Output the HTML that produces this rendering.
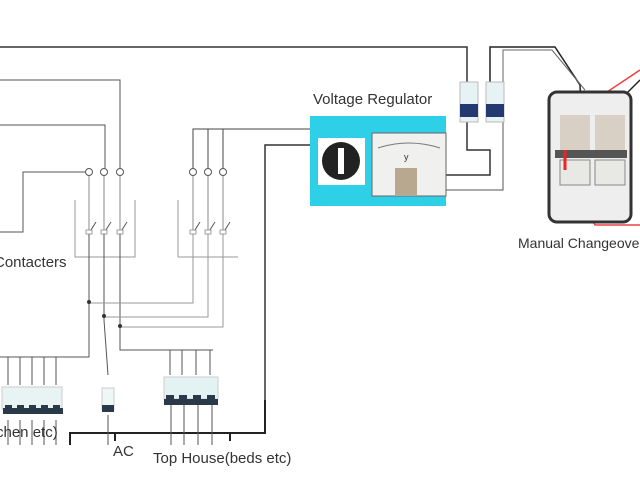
<!DOCTYPE html>
<html><head><meta charset="utf-8"><style>
html,body{margin:0;padding:0;background:#fff;width:640px;height:480px;overflow:hidden}
text{font-family:"Liberation Sans",sans-serif;fill:#333}
</style></head><body>
<svg width="640" height="480" viewBox="0 0 640 480" xmlns="http://www.w3.org/2000/svg">
<g fill="none" stroke="#555" stroke-width="1">
<path d="M0 47 H467 V86" stroke="#333" stroke-width="1.5"/>
<path d="M0 80 H120 V168"/>
<path d="M0 125 H105 V168"/>
<path d="M0 232 H23 V172 H85"/>
<circle cx="89" cy="172" r="3.5" fill="#fff"/><circle cx="104" cy="172" r="3.5" fill="#fff"/><circle cx="120" cy="172" r="3.5" fill="#fff"/>
<path d="M75 200 V257 H135 V200" stroke="#999"/>
<path d="M89 176 V233 M104 176 V233 M120 176 V233" stroke="#888"/>
<path d="M89 233 L96 222 M104 233 L111 222 M120 233 L127 222" stroke="#555"/>
<path d="M89 233 V357 H0" stroke="#555"/>
<path d="M104 233 V320 L108 375"/>
<path d="M120 233 V350 H213"/>
<path d="M193 168 V129 H310 M208 168 V129 M223 168 V129" stroke="#444"/>
<circle cx="193" cy="172" r="3.5" fill="#fff"/><circle cx="208" cy="172" r="3.5" fill="#fff"/><circle cx="223" cy="172" r="3.5" fill="#fff"/>
<path d="M178 200 V257 H238" stroke="#999"/>
<path d="M193 176 V233 M208 176 V233 M223 176 V233" stroke="#888"/>
<path d="M193 233 L200 222 M208 233 L215 222 M223 233 L230 222"/>
<path d="M193 233 V303 H89 M208 233 V317 H104 M223 233 V327 H120" stroke="#999"/>
<path d="M265 430 V145 H310" stroke="#333" stroke-width="1.5"/>
<path d="M70 445 V433 H265 V400" stroke="#222" stroke-width="2"/>
<path d="M115 433 V441 M230 433 V441" stroke="#222" stroke-width="2"/>
<path d="M446 175 H490 V150 H467 V122" stroke="#333" stroke-width="1.5"/>
<path d="M446 190 H503 V122" stroke="#555"/>
<path d="M490 85 V47 H555 L580 85 L585 200" stroke="#222" stroke-width="1.5"/>
<path d="M503 85 V50 H552 L585 90" stroke="#666"/>
<path d="M565 140 L580 110 L640 70" stroke="#e44" stroke-width="1.5"/>
<path d="M600 95 V120 L640 80" stroke="#222" stroke-width="1.5"/>
<path d="M575 190 L595 225 H640" stroke="#e44" stroke-width="1.5"/>
</g>
<g fill="#fff" stroke="#888" stroke-width="0.8">
<rect x="86" y="230" width="6" height="4"/><rect x="101" y="230" width="6" height="4"/><rect x="117" y="230" width="6" height="4"/>
<rect x="190" y="230" width="6" height="4"/><rect x="205" y="230" width="6" height="4"/><rect x="220" y="230" width="6" height="4"/>
</g>
<g stroke="#555" stroke-width="1">
<path d="M8 357 V385 M20 357 V385 M32 357 V385 M44 357 V385 M56 357 V385"/>
<path d="M8 420 V445 M20 420 V445 M32 420 V445 M44 420 V445 M56 420 V445"/>
<path d="M170 350 V375 M182 350 V375 M196 350 V375 M210 350 V375"/>
<path d="M171 405 V445 M184 405 V445 M198 405 V445 M212 405 V445"/>
<path d="M108 415 V445"/>
</g>
<g fill="#333"><circle cx="89" cy="302" r="2"/><circle cx="104" cy="316" r="2"/><circle cx="120" cy="326" r="2"/></g>
<g fill="#e8f4f4" stroke="#ccc"><rect x="2" y="387" width="60" height="22"/></g>
<g fill="#2a3a4a"><rect x="3" y="408" width="60" height="6"/><rect x="5" y="405" width="7" height="6"/><rect x="17" y="405" width="7" height="6"/><rect x="29" y="405" width="7" height="6"/><rect x="41" y="405" width="7" height="6"/><rect x="53" y="405" width="7" height="6"/></g>
<rect x="102" y="388" width="12" height="22" fill="#eef6f6" stroke="#ccc"/>
<rect x="102" y="405" width="12" height="7" fill="#2a3a4a"/>
<rect x="164" y="377" width="54" height="22" fill="#e3f3f3" stroke="#ccc"/>
<rect x="164" y="399" width="54" height="6" fill="#2a3a4a"/>
<g fill="#2a3a4a"><rect x="166" y="395" width="8" height="6"/><rect x="179" y="395" width="8" height="6"/><rect x="193" y="395" width="8" height="6"/><rect x="207" y="395" width="8" height="6"/></g>
<rect x="310" y="116" width="136" height="90" fill="#2ed0e8"/>
<rect x="318" y="138" width="47" height="47" fill="#fff"/>
<circle cx="341" cy="161" r="19" fill="#222"/>
<rect x="338" y="148" width="6" height="26" fill="#fff"/>
<rect x="372" y="133" width="74" height="63" fill="#f0f0ee" stroke="#666"/>
<path d="M378 148 Q409 138 440 148" stroke="#777" fill="none"/>
<text x="404" y="160" font-size="9">y</text>
<rect x="395" y="168" width="22" height="27" fill="#b8a890"/>
<text x="313" y="104" font-size="15">Voltage Regulator</text>
<rect x="460" y="82" width="18" height="40" fill="#e6f2f4" stroke="#bbb"/>
<rect x="460" y="104" width="18" height="13" fill="#223a70"/>
<rect x="486" y="82" width="18" height="40" fill="#e6f2f4" stroke="#bbb"/>
<rect x="486" y="104" width="18" height="13" fill="#223a70"/>
<rect x="549" y="92" width="82" height="130" rx="8" fill="#eee" stroke="#333" stroke-width="3"/>
<rect x="560" y="115" width="30" height="40" fill="#d8d0c4"/>
<rect x="595" y="115" width="30" height="40" fill="#d8d0c4"/>
<rect x="555" y="150" width="72" height="8" fill="#555"/>
<rect x="560" y="160" width="30" height="25" fill="#e8e8e4" stroke="#888"/>
<rect x="595" y="160" width="30" height="25" fill="#e8e8e4" stroke="#888"/>
<path d="M565 150 V170" stroke="#e22" stroke-width="3"/>
<text x="518" y="248" font-size="14">Manual Changeover</text>
<text x="-6" y="267" font-size="15">Contacters</text>
<text x="-4" y="437" font-size="15">chen etc)</text>
<text x="113" y="456" font-size="15">AC</text>
<text x="153" y="463" font-size="15">Top House(beds etc)</text>
</svg>
</body></html>
